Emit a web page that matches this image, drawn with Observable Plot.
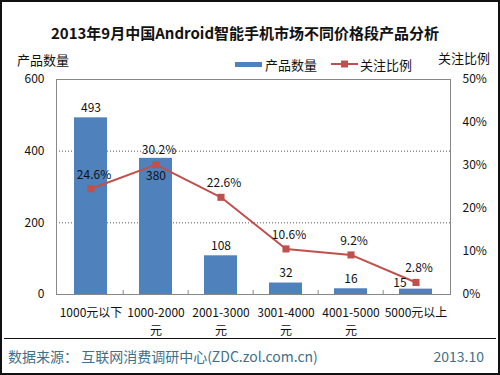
<!DOCTYPE html>
<html>
<head>
<meta charset="utf-8">
<script src="https://cdn.jsdelivr.net/npm/d3@7"></script>
<script src="https://cdn.jsdelivr.net/npm/@observablehq/plot@0.6"></script>
<style>
  html, body { margin: 0; padding: 0; background: #fff; }
  #wrap { position: relative; width: 500px; height: 375px; overflow: hidden; background: #fff;
          font-family: "Noto Sans CJK SC", "Noto Sans", sans-serif; color: #111; }
  #wrap > svg { position: absolute; left: 0; top: 0; }
  .t { position: absolute; white-space: nowrap; line-height: 1; }
  #border { position: absolute; left: 0; top: 0; width: 496px; height: 371px; border: 2px solid #111; pointer-events: none; }
</style>
</head>
<body>
<div id="wrap"></div>
<script>
const categories = ["1000元以下", "1000-2000元", "2001-3000元", "3001-4000元", "4001-5000元", "5000元以上"];
const tickLabels = ["1000元以下", "1000-2000\n元", "2001-3000\n元", "3001-4000\n元", "4001-5000\n元", "5000元以上"];
const productCounts = [493, 380, 108, 32, 16, 15];
const attentionPct = [24.6, 30.2, 22.6, 10.6, 9.2, 2.8];
const leftTicks = [0, 200, 400, 600];
const rightTicks = [0, 10, 20, 30, 40, 50];

const title = "2013年9月中国Android智能手机市场不同价格段产品分析";
const seriesNames = ["产品数量", "关注比例"];
const source = "数据来源： 互联网消费调研中心(ZDC.zol.com.cn)";
const dateLabel = "2013.10";

const blue = "#4f81bd", red = "#c0504d";
const scaleK = 600 / 50; // percent -> left-axis units

const data = categories.map((c, i) => ({cat: c, n: productCounts[i], pct: attentionPct[i], i}));
const labelOf = new Map(categories.map((c, i) => [c, tickLabels[i]]));

const chart = Plot.plot({
  width: 500,
  height: 375,
  marginLeft: 56,
  marginRight: 50,
  marginTop: 79,
  marginBottom: 81,
  style: {fontFamily: '"Noto Sans CJK SC", "Noto Sans", sans-serif', fontSize: "12px", color: "#111", background: "transparent"},
  x: {domain: categories, paddingInner: 0.5, paddingOuter: 0.25},
  y: {domain: [0, 600]},
  marks: [
    Plot.ruleY([200, 400], {stroke: "#555", strokeDasharray: "1,2", strokeWidth: 1}),
    Plot.barY(data, {x: "cat", y: "n", fill: blue}),
    Plot.ruleX(categories.slice(1), {x: d => d, dx: -(394 / 6) / 2, y1: 0, y2: 11, stroke: "#888"}),
    Plot.frame({stroke: "#888"}),
    Plot.axisX({tickSize: 0, tickPadding: 10, fontSize: 12, lineHeight: 1.5, tickFormat: d => labelOf.get(d), label: null}),
    Plot.axisY({anchor: "left", ticks: leftTicks, tickSize: 0, tickPadding: 12, fontSize: 12, label: null}),
    Plot.axisY({anchor: "right", ticks: rightTicks.map(v => v * scaleK), tickSize: 0, tickPadding: 12, fontSize: 12,
      tickFormat: d => Math.round(d / scaleK) + "%", label: null}),
    Plot.lineY(data, {x: "cat", y: d => d.pct * scaleK, stroke: red, strokeWidth: 2}),
    Plot.dot(data, {x: "cat", y: d => d.pct * scaleK, symbol: "square", r: 4, fill: red, stroke: "none"}),
    // bar value labels
    Plot.text(data.filter(d => d.i !== 1 && d.i !== 5), {x: "cat", y: "n", text: d => String(d.n), dy: -10, fontSize: 12, fill: "#111"}),
    Plot.text(data.filter(d => d.i === 1), {x: "cat", y: "n", text: d => String(d.n), dy: 18, fontSize: 12, fill: "#111"}),
    Plot.text(data.filter(d => d.i === 5), {x: "cat", y: "n", text: d => String(d.n), dx: -16, dy: -6, fontSize: 12, fill: "#111"}),
    // percentage labels
    Plot.text(data, {x: "cat", y: d => d.pct * scaleK, text: d => d.pct.toFixed(1) + "%", dx: 3, dy: -14, fontSize: 12, fill: "#111"})
  ]
});

const wrap = document.getElementById("wrap");
wrap.appendChild(chart);

function addText(txt, css) {
  const el = document.createElement("div");
  el.className = "t";
  el.textContent = txt;
  Object.assign(el.style, css);
  wrap.appendChild(el);
  return el;
}
addText(title, {left: "0", width: "490px", textAlign: "center", top: "25px", fontSize: "15px", fontWeight: "bold"});
addText(seriesNames[0], {left: "17px", top: "53px", fontSize: "13px"});
addText(seriesNames[1], {left: "438px", top: "51px", fontSize: "13px"});

// legend
const lg = document.createElement("div");
lg.style.cssText = "position:absolute;left:235px;top:57px;height:14px;display:flex;align-items:center;font-size:13px;white-space:nowrap;";
lg.innerHTML = `<span style="display:inline-block;width:27px;height:5px;background:${blue};margin-right:3px"></span><span>${seriesNames[0]}</span>` +
  `<svg width="27" height="10" style="display:block;margin-left:14px;margin-right:2px"><line x1="0" y1="5" x2="27" y2="5" stroke="${red}" stroke-width="2"/><rect x="10" y="1.5" width="7" height="7" fill="${red}"/></svg><span>${seriesNames[1]}</span>`;
wrap.appendChild(lg);

// separator and footer
const sep = document.createElement("div");
sep.style.cssText = "position:absolute;left:4px;top:338px;width:492px;height:1px;background:#111;";
wrap.appendChild(sep);
addText(source, {left: "8px", top: "349px", fontSize: "14px", color: "#3f7088"});
addText(dateLabel, {right: "16px", top: "349px", fontSize: "14px", color: "#3f7088"});

const b = document.createElement("div");
b.id = "border";
wrap.appendChild(b);
</script>
</body>
</html>
